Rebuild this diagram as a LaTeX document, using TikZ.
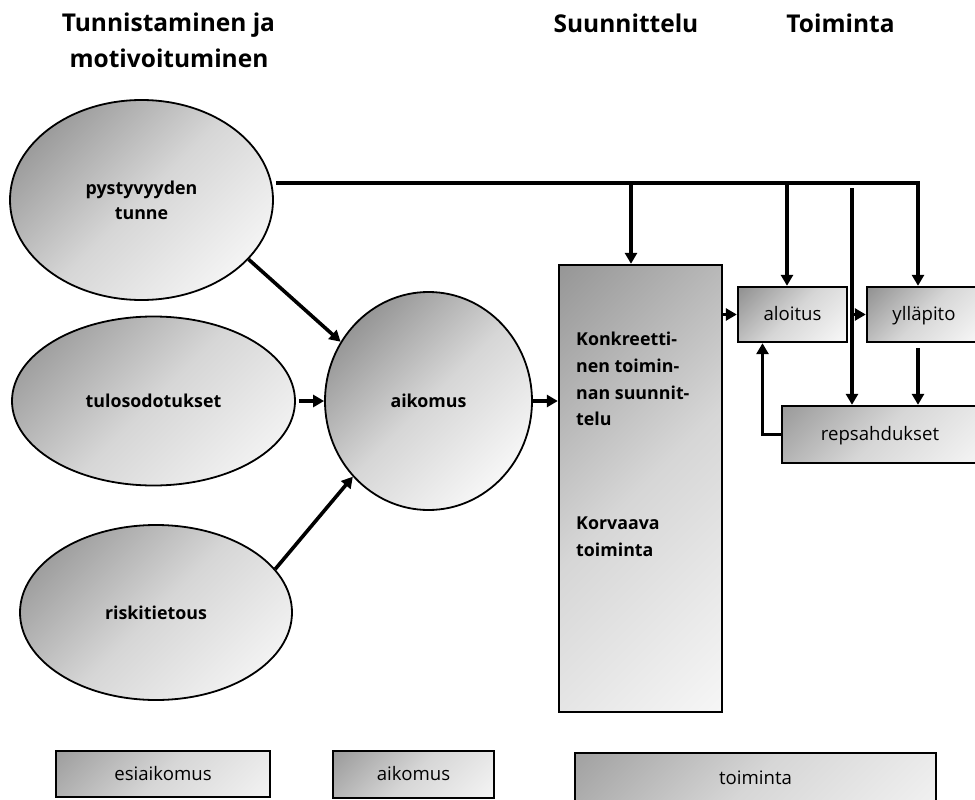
\documentclass[tikz,border=0pt]{standalone}
\usepackage{fontspec}
\setmainfont{Open Sans}
\usetikzlibrary{shapes.geometric,arrows.meta,calc}
\newcommand{\ttlfont}{\fontsize{24.5}{30}\selectfont\bfseries}
\newcommand{\lblfont}{\fontsize{17.8}{25}\selectfont\bfseries}
\newcommand{\plnfont}{\fontsize{17.8}{26.7}\selectfont\bfseries}
\newcommand{\bxfont}{\fontsize{18.6}{22}\selectfont}
\tikzset{
  shadefill/.style={path picture={
    \shade[top color=black!42, bottom color=black!3, middle color=black!16, shading angle=45]
      let \p1=(path picture bounding box.south west),
          \p2=(path picture bounding box.north east),
          \n1={max(\x2-\x1,\y2-\y1)/2}
      in ([xshift=-\n1, yshift=-\n1]path picture bounding box.center)
         rectangle ([xshift=\n1, yshift=\n1]path picture bounding box.center);}},
  oval/.style={ellipse, draw, line width=1.8pt, shadefill, inner sep=0pt, font=\lblfont, align=center},
  bx/.style={rectangle, draw, line width=2.4pt, shadefill, inner sep=0pt, font=\bxfont, text height=15.5pt, text depth=3pt},
  lgd/.style={rectangle, draw, line width=2.6pt, shadefill, inner sep=0pt, font=\bxfont, text height=15.5pt, text depth=3pt},
  ttl/.style={anchor=base, inner sep=0pt, font=\ttlfont},
  arr/.style={line width=3.6pt, -{Triangle[length=11pt,width=12pt]}},
}
\begin{document}
\begin{tikzpicture}[x=1pt,y=-1pt]
\useasboundingbox (0,0) rectangle (975,800);
% titles
\node[ttl] (t1a) at (168.5,32) {Tunnistaminen ja};
\node[ttl] (t1b) at (169,68) {motivoituminen};
\node[ttl] (t2) at (626,33) {Suunnittelu};
\node[ttl] (t3) at (840.5,33) {Toiminta};
% ellipses
\node[oval, minimum width=263pt, minimum height=200pt] (e1) at (141.5,200) {pystyvyyden\\tunne};
\node[oval, minimum width=283pt, minimum height=169pt] (e2) at (153.5,401) {tulosodotukset};
\node[oval, minimum width=272pt, minimum height=175pt] (e3) at (156,612.5) {riskitietous};
\node[oval, minimum width=207pt, minimum height=218pt] (aik) at (428.5,401) {aikomus};
% planning box
\node[bx, minimum width=163pt, minimum height=447pt] (plan) at (640.5,488.5) {};
\node[anchor=north west, align=left, inner sep=0pt, font=\plnfont] (k1) at (576,332) {Konkreetti-\\nen toimin-\\nan suunnit-\\telu};
\node[anchor=north west, align=left, inner sep=0pt, font=\plnfont] (k2) at (576,517) {Korvaava\\toiminta};
% action boxes
\node[bx, minimum width=109pt, minimum height=55pt] (alo) at (792.5,314.5) {aloitus};
\node[bx, minimum width=114pt, minimum height=55pt] (yll) at (924,314.5) {ylläpito};
\node[bx, minimum width=196pt, minimum height=57pt] (rep) at (880,434.5) {repsahdukset};
% legend
\node[lgd, minimum width=214pt, minimum height=46pt] (l1) at (163,774) {esiaikomus};
\node[lgd, minimum width=161pt, minimum height=47pt] (l2) at (413.5,774.5) {aikomus};
\node[lgd, minimum width=361pt, minimum height=50pt] (l3) at (755.5,778) {toiminta};
% connectors
\coordinate (bus) at (918,183);
\coordinate (b1) at (631,183);
\coordinate (b2) at (787,183);
\coordinate (rtop) at (852,188);
\draw[arr] ([xshift=2pt]e1.east |- bus) -- (bus) -- (bus |- yll.north);
\draw[arr] (b1) -- (b1 |- plan.north);
\draw[arr] (b2) -- (b2 |- alo.north);
\draw[arr] (rtop) -- (rtop |- rep.north);
\draw[arr] ([yshift=-5pt]bus |- yll.south) -- (bus |- rep.north);
\draw[arr] (alo.west -| plan.east) -- (alo.west);
\draw[arr] ([xshift=5pt]alo.east) -- (yll.west);
\draw[arr] (rep.west) -| ([xshift=-30pt]alo.south);
\draw[arr] (aik.east) -- (aik.east -| plan.west);
\draw[arr] ([xshift=3pt]e2.east) -- (e2.east -| aik.west);
\draw[arr] (e1.-29) -- (aik.146);
\draw[arr] (e3.20) -- (aik.-135);
\end{tikzpicture}
\end{document}
